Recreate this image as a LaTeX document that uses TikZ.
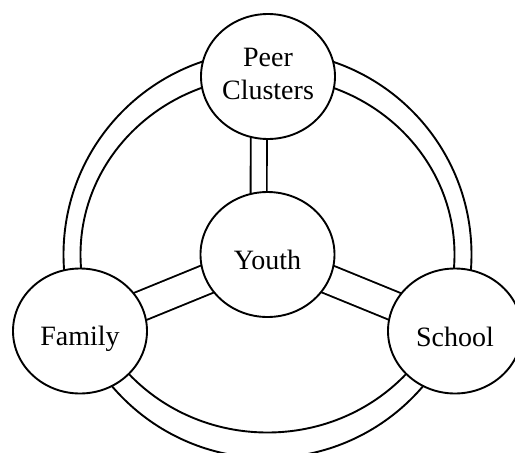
\documentclass[tikz,border=0pt]{standalone}
\usepackage{fontspec}
\setmainfont{Liberation Serif}
\usetikzlibrary{shapes.geometric,backgrounds}
\tikzset{
  sphere/.style={draw, ellipse, fill=white, line width=1.9pt, minimum width=134pt, minimum height=125pt, inner sep=0pt, align=center, font=\fontsize{28}{33}\selectfont},
  band/.style={line width=1.9pt},
  spoke/.style={draw=black, line width=1.9pt, double=white, double distance=#1}
}
\begin{document}
\begin{tikzpicture}[x=1pt,y=-1pt]
\useasboundingbox (0,0) rectangle (515,453);

\node [sphere] (peer) at (268,76.5) {\raisebox{-22.5pt}[0pt][0pt]{\begin{tabular}[b]{@{}c@{}}Peer\\Clusters\end{tabular}}};
\node [sphere] (youth) at (267.5,254.5) {\raisebox{-14.5pt}[0pt][0pt]{Youth}};
\node [sphere] (family) at (80,331) {\raisebox{-14pt}[0pt][0pt]{Family}};
\node [sphere] (school) at (455,331) {\raisebox{-15pt}[0pt][0pt]{School}};

\begin{scope}[on background layer]
\draw [band] (youth.center) ellipse (204 and 203.5);
\draw [band] (youth.center) ellipse (187 and 178);
\draw [spoke=14.2pt] ([xshift=-9pt]peer.center) -- ([xshift=-9pt]youth.center);
\draw [spoke=27.8pt] (family.center) -- (youth.center);
\draw [spoke=27.2pt] (youth.center) -- (school.center);
\end{scope}
\end{tikzpicture}
\end{document}
